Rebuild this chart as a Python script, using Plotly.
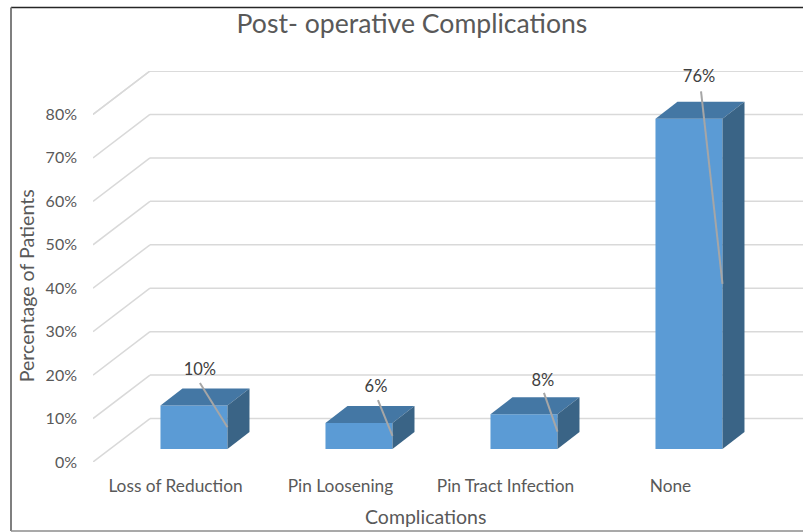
import plotly.graph_objects as go

categories = ["Loss of Reduction", "Pin Loosening", "Pin Tract Infection", "None"]
values = [10, 6, 8, 76]
value_labels = ["10%", "6%", "8%", "76%"]
y_ticks = [0, 10, 20, 30, 40, 50, 60, 70, 80]
y_tick_labels = ["0%", "10%", "20%", "30%", "40%", "50%", "60%", "70%", "80%"]
label_x = [0.148, 1.215, 2.227, 3.173]
label_y = [21.0, 17.1, 18.45, 88.4]
leader_start_x = [0.148, 1.227, 2.233, 3.185]
leader_start_y = [18.2, 14.25, 15.9, 85.3]

# pseudo-3D geometry, in axis units
WALL_DX, WALL_DY = 57 / 165, 10.0
BAR_SHIFT, BAR_BASE, BAR_W = 0.112, 3.0, 67 / 165
BAR_DX, BAR_DY = 22 / 165, 3.9
X_MIN, X_MAX = -0.5, 3.803

FRONT, TOP, SIDE = "#5B9BD5", "#4477A4", "#3A6486"
TEXT = "#595959"
FONT = "Lato, Carlito, sans-serif"

fig = go.Figure()

positions = [i + BAR_SHIFT for i in range(len(values))]
fig.add_trace(go.Bar(x=positions, y=values, base=BAR_BASE, width=BAR_W,
                     marker=dict(color=FRONT, line=dict(width=0)),
                     hoverinfo="skip", showlegend=False))

for xc, v in zip(positions, values):
    x0, x1 = xc - BAR_W / 2, xc + BAR_W / 2
    top = BAR_BASE + v
    fig.add_trace(go.Scatter(
        x=[x0, x1, x1 + BAR_DX, x0 + BAR_DX, x0],
        y=[top, top, top + BAR_DY, top + BAR_DY, top],
        fill="toself", fillcolor=TOP, mode="lines", line=dict(width=0),
        hoverinfo="skip", showlegend=False))
    fig.add_trace(go.Scatter(
        x=[x1, x1 + BAR_DX, x1 + BAR_DX, x1, x1],
        y=[BAR_BASE, BAR_BASE + BAR_DY, top + BAR_DY, top, BAR_BASE],
        fill="toself", fillcolor=SIDE, mode="lines", line=dict(width=0),
        hoverinfo="skip", showlegend=False))

for xc, v, sx, sy in zip(positions, values, leader_start_x, leader_start_y):
    fig.add_trace(go.Scatter(
        x=[sx, xc + BAR_W / 2], y=[sy, BAR_BASE + v / 2],
        mode="lines", line=dict(color="#A6A6A6", width=2),
        hoverinfo="skip", showlegend=False))

fig.add_trace(go.Scatter(
    x=label_x, y=label_y, mode="text", text=value_labels,
    textposition="middle center", cliponaxis=False,
    textfont=dict(family=FONT, size=16.5, color="#404040"),
    hoverinfo="skip", showlegend=False))

# floor-and-wall gridlines, below the bars
shapes = []
for t in y_ticks + [90 - WALL_DY]:
    shapes.append(dict(type="line", xref="x", yref="y", layer="below",
                       x0=X_MIN, y0=t, x1=X_MIN + WALL_DX, y1=t + WALL_DY,
                       line=dict(color="#D9D9D9", width=1.5)))
    shapes.append(dict(type="line", xref="x", yref="y", layer="below",
                       x0=X_MIN + WALL_DX, y0=t + WALL_DY, x1=X_MAX, y1=t + WALL_DY,
                       line=dict(color="#D9D9D9", width=1.5)))

# chart-area border
shapes += [
    dict(type="line", xref="paper", yref="paper", x0=-82 / 710, x1=1.0,
         y0=1 + 63.5 / 391.5, y1=1 + 63.5 / 391.5, line=dict(color="#262626", width=1.5)),
    dict(type="line", xref="paper", yref="paper", x0=-82 / 710, x1=-82 / 710,
         y0=-69 / 391.5, y1=1 + 63.5 / 391.5, line=dict(color="#7F7F7F", width=2)),
    dict(type="line", xref="paper", yref="paper", x0=-82 / 710, x1=1.0,
         y0=-69 / 391.5, y1=-69 / 391.5, line=dict(color="#8C8C8C", width=1.5)),
]

# axis titles sit off-centre from the plot area in the reference
annotations = [
    dict(text="Complications", xref="paper", yref="paper", showarrow=False,
         x=(425 - 93) / 710, y=(462 - 517) / 391.5, xanchor="center", yanchor="middle",
         font=dict(family=FONT, size=19.5, color=TEXT)),
    dict(text="Percentage of Patients", xref="paper", yref="paper", showarrow=False,
         x=(26 - 93) / 710, y=(462 - 286) / 391.5, xanchor="center", yanchor="middle",
         textangle=-90, font=dict(family=FONT, size=19.6, color=TEXT)),
]

fig.update_layout(
    width=803, height=532,
    margin=dict(l=93, r=0, t=70.5, b=70, autoexpand=False),
    paper_bgcolor="white", plot_bgcolor="white",
    font=dict(family=FONT, color=TEXT),
    shapes=shapes,
    annotations=annotations,
    showlegend=False,
    title=dict(text="Post- operative Complications", x=412 / 803, xanchor="center",
               y=1 - 24 / 532, yanchor="middle",
               font=dict(family=FONT, size=26.6, color=TEXT)),
    xaxis=dict(range=[X_MIN, X_MAX], tickmode="array", tickvals=list(range(len(categories))),
               ticktext=categories, showgrid=False, zeroline=False, showline=False,
               ticks="", ticklabelstandoff=12, tickfont=dict(family=FONT, size=17.3, color=TEXT)),
    yaxis=dict(range=[0, 90], tickmode="array", tickvals=y_ticks, ticktext=y_tick_labels,
               showgrid=False, zeroline=False, showline=False,
               ticks="", ticklabelstandoff=15, tickfont=dict(family=FONT, size=16, color=TEXT)),
)

fig.write_html("out.html", config={"displayModeBar": False},
               post_script="document.body.style.margin='0';")
